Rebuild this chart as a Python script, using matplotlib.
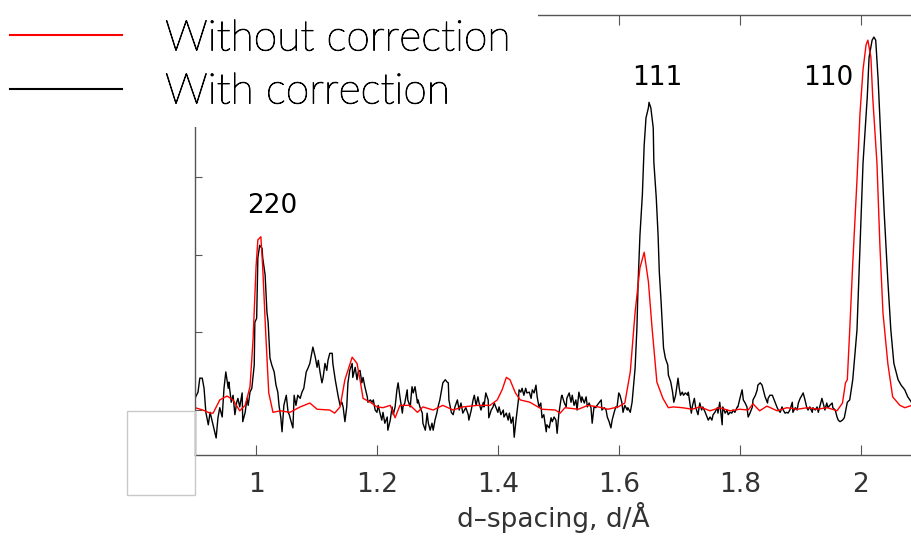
import numpy as np
import matplotlib
matplotlib.use('Agg')
import matplotlib.pyplot as plt
import matplotlib.patheffects as pe
from matplotlib.patches import Rectangle

# diffraction pattern, d-spacing (A) vs intensity (a.u.)
x_red = [0.899, 0.912, 0.924, 0.929, 0.940, 0.952, 0.962, 0.973, 0.982, 0.990,
         0.995, 1.000, 1.003, 1.008, 1.011, 1.016, 1.021, 1.028, 1.040, 1.056,
         1.073, 1.089, 1.101, 1.122, 1.130, 1.139, 1.147, 1.159, 1.167, 1.172,
         1.177, 1.189, 1.200, 1.210, 1.222, 1.230, 1.238, 1.255, 1.267, 1.276,
         1.293, 1.309, 1.326, 1.342, 1.366, 1.387, 1.399, 1.407, 1.414, 1.420,
         1.429, 1.437, 1.453, 1.473, 1.495, 1.503, 1.511, 1.533, 1.549, 1.566,
         1.582, 1.599, 1.610, 1.619, 1.627, 1.635, 1.642, 1.649, 1.655, 1.663,
         1.673, 1.682, 1.690, 1.705, 1.721, 1.734, 1.751, 1.767, 1.784, 1.800,
         1.814, 1.822, 1.833, 1.845, 1.862, 1.878, 1.895, 1.912, 1.928, 1.945,
         1.961, 1.970, 1.975, 1.978, 1.982, 1.987, 1.994, 1.999, 2.004, 2.009,
         2.012, 2.017, 2.020, 2.027, 2.032, 2.037, 2.045, 2.053, 2.065, 2.073,
         2.085]
y_red = [0.03, 0.00, -0.04, -0.04, 0.13, 0.18, 0.13, -0.01, 0.06, 0.30,
         0.90, 1.84, 2.19, 2.23, 1.84, 0.99, 0.22, -0.03, -0.01, -0.03,
         0.04, 0.09, 0.01, 0.00, -0.04, 0.04, 0.39, 0.68, 0.60, 0.39,
         0.15, 0.10, 0.04, 0.03, 0.06, -0.10, 0.06, 0.06, -0.03, 0.04,
         0.00, 0.06, 0.00, 0.04, 0.06, 0.06, 0.13, 0.26, 0.42, 0.39,
         0.22, 0.13, 0.10, 0.01, 0.00, -0.04, 0.03, 0.01, 0.06, 0.04,
         0.01, 0.04, 0.09, 0.49, 1.26, 1.83, 2.03, 1.65, 1.06, 0.36,
         0.15, 0.03, 0.04, 0.03, 0.01, 0.04, -0.01, 0.03, -0.01, 0.01,
         0.00, 0.08, -0.01, 0.05, -0.01, 0.03, 0.01, 0.03, 0.01, 0.03,
         -0.01, 0.09, 0.35, 0.39, 1.03, 1.89, 2.96, 3.82, 4.38, 4.70,
         4.76, 4.54, 4.03, 3.18, 2.10, 1.25, 0.60, 0.17, 0.06, 0.03,
         0.06]

x_black = [0.899, 0.904, 0.907, 0.911, 0.914, 0.917, 0.921, 0.924, 0.927, 0.930,
           0.934, 0.937, 0.940, 0.944, 0.947, 0.950, 0.954, 0.955, 0.959, 0.962,
           0.965, 0.968, 0.970, 0.973, 0.977, 0.978, 0.982, 0.985, 0.987, 0.990,
           0.993, 0.997, 0.998, 1.001, 1.003, 1.006, 1.010, 1.011, 1.015, 1.018,
           1.020, 1.023, 1.026, 1.030, 1.033, 1.036, 1.038, 1.041, 1.043, 1.046,
           1.050, 1.053, 1.055, 1.058, 1.061, 1.063, 1.066, 1.069, 1.073, 1.076,
           1.079, 1.083, 1.086, 1.089, 1.093, 1.094, 1.098, 1.101, 1.103, 1.106,
           1.109, 1.111, 1.114, 1.117, 1.119, 1.122, 1.126, 1.127, 1.131, 1.134,
           1.136, 1.139, 1.142, 1.144, 1.147, 1.150, 1.152, 1.155, 1.159, 1.160,
           1.164, 1.167, 1.169, 1.172, 1.175, 1.177, 1.180, 1.184, 1.185, 1.189,
           1.192, 1.194, 1.197, 1.200, 1.202, 1.205, 1.208, 1.210, 1.213, 1.217,
           1.218, 1.222, 1.225, 1.227, 1.230, 1.233, 1.235, 1.238, 1.242, 1.243,
           1.246, 1.250, 1.251, 1.255, 1.258, 1.260, 1.263, 1.267, 1.268, 1.271,
           1.275, 1.276, 1.280, 1.283, 1.285, 1.288, 1.291, 1.293, 1.296, 1.299,
           1.301, 1.304, 1.308, 1.309, 1.313, 1.316, 1.318, 1.319, 1.323, 1.326,
           1.329, 1.333, 1.336, 1.339, 1.342, 1.347, 1.351, 1.352, 1.356, 1.359,
           1.361, 1.364, 1.367, 1.369, 1.372, 1.376, 1.377, 1.380, 1.384, 1.385,
           1.389, 1.392, 1.394, 1.397, 1.400, 1.402, 1.405, 1.409, 1.410, 1.414,
           1.417, 1.419, 1.422, 1.425, 1.427, 1.430, 1.434, 1.435, 1.438, 1.440,
           1.443, 1.446, 1.448, 1.452, 1.455, 1.457, 1.460, 1.463, 1.465, 1.468,
           1.471, 1.473, 1.476, 1.480, 1.481, 1.485, 1.488, 1.490, 1.493, 1.496,
           1.498, 1.501, 1.505, 1.506, 1.510, 1.513, 1.514, 1.518, 1.521, 1.523,
           1.526, 1.529, 1.531, 1.534, 1.538, 1.539, 1.543, 1.546, 1.548, 1.551,
           1.554, 1.556, 1.559, 1.562, 1.564, 1.567, 1.571, 1.572, 1.576, 1.579,
           1.581, 1.584, 1.587, 1.589, 1.592, 1.595, 1.597, 1.600, 1.602, 1.605,
           1.607, 1.610, 1.614, 1.615, 1.619, 1.622, 1.624, 1.627, 1.630, 1.632,
           1.635, 1.639, 1.642, 1.645, 1.649, 1.650, 1.653, 1.657, 1.658, 1.662,
           1.665, 1.667, 1.670, 1.672, 1.674, 1.677, 1.681, 1.682, 1.686, 1.689,
           1.691, 1.694, 1.698, 1.700, 1.702, 1.705, 1.707, 1.710, 1.714, 1.715,
           1.720, 1.722, 1.725, 1.727, 1.731, 1.734, 1.737, 1.739, 1.743, 1.746,
           1.748, 1.751, 1.754, 1.756, 1.759, 1.763, 1.764, 1.767, 1.771, 1.772,
           1.776, 1.779, 1.781, 1.784, 1.787, 1.789, 1.792, 1.796, 1.797, 1.801,
           1.804, 1.806, 1.809, 1.812, 1.814, 1.817, 1.821, 1.822, 1.826, 1.829,
           1.830, 1.834, 1.837, 1.839, 1.842, 1.846, 1.847, 1.850, 1.854, 1.855,
           1.859, 1.862, 1.864, 1.867, 1.870, 1.872, 1.875, 1.878, 1.880, 1.883,
           1.887, 1.888, 1.892, 1.895, 1.897, 1.900, 1.903, 1.905, 1.908, 1.911,
           1.913, 1.916, 1.920, 1.921, 1.925, 1.928, 1.930, 1.933, 1.936, 1.938,
           1.941, 1.944, 1.946, 1.949, 1.953, 1.954, 1.958, 1.961, 1.963, 1.966,
           1.970, 1.973, 1.978, 1.982, 1.987, 1.994, 1.999, 2.004, 2.011, 2.014,
           2.019, 2.022, 2.025, 2.029, 2.034, 2.039, 2.045, 2.050, 2.055, 2.062,
           2.067, 2.073, 2.078, 2.085]
y_black = [0.15, 0.23, 0.41, 0.41, 0.28, -0.03, -0.19, -0.03, -0.13, -0.23,
           -0.36, -0.10, 0.03, -0.09, 0.28, 0.49, 0.28, 0.36, 0.10, 0.19,
           -0.06, 0.10, 0.15, 0.04, 0.22, -0.15, -0.03, 0.15, 0.06, 0.23,
           0.28, 0.58, 1.13, 1.18, 1.96, 2.12, 2.08, 1.96, 1.74, 1.26,
           1.13, 0.67, 0.58, 0.49, 0.32, 0.23, 0.06, -0.10, -0.28, 0.06,
           0.19, -0.03, -0.06, -0.15, -0.23, 0.19, 0.06, 0.19, 0.15, 0.23,
           0.28, 0.49, 0.54, 0.60, 0.77, 0.81, 0.68, 0.55, 0.64, 0.48,
           0.35, 0.42, 0.60, 0.51, 0.64, 0.73, 0.73, 0.60, 0.39, 0.26,
           0.17, 0.06, 0.10, 0.04, -0.15, 0.04, 0.35, 0.51, 0.60, 0.42,
           0.55, 0.39, 0.49, 0.51, 0.35, 0.42, 0.30, 0.17, 0.10, 0.13,
           0.10, 0.13, 0.00, -0.03, 0.06, -0.04, -0.13, -0.03, -0.17, -0.09,
           -0.26, -0.13, 0.04, -0.06, 0.04, 0.26, 0.35, 0.17, -0.04, 0.04,
           0.09, 0.26, 0.13, 0.04, 0.30, 0.22, 0.30, 0.09, 0.13, 0.04,
           -0.04, -0.17, -0.26, -0.04, -0.17, -0.26, -0.17, -0.26, -0.13, -0.04,
           0.04, 0.13, 0.30, 0.35, 0.39, 0.36, 0.35, 0.13, -0.03, -0.06,
           0.04, 0.13, 0.00, 0.09, -0.04, 0.03, -0.06, -0.13, 0.00, 0.13,
           0.19, 0.06, 0.17, 0.09, 0.00, 0.10, 0.04, 0.22, 0.13, -0.10,
           0.00, 0.04, 0.09, 0.03, -0.03, 0.04, -0.06, 0.00, -0.09, -0.04,
           -0.13, -0.04, -0.17, -0.09, -0.35, -0.13, 0.13, 0.26, 0.23, 0.28,
           0.19, 0.28, 0.22, 0.23, 0.15, 0.26, 0.22, 0.32, 0.17, 0.04,
           0.09, -0.10, -0.06, -0.28, -0.19, -0.23, -0.10, -0.15, -0.09, -0.13,
           -0.30, -0.04, 0.17, 0.19, 0.09, 0.04, 0.15, 0.22, 0.10, 0.19,
           0.06, 0.13, 0.00, 0.23, 0.10, 0.17, 0.09, 0.17, 0.04, 0.09,
           0.03, -0.17, 0.04, 0.03, 0.06, 0.09, 0.13, 0.00, 0.03, 0.00,
           -0.09, -0.15, -0.23, -0.13, -0.04, 0.04, 0.03, 0.22, 0.19, 0.10,
           -0.03, 0.06, 0.00, 0.03, -0.03, 0.10, 0.28, 0.54, 1.06, 1.65,
           2.25, 2.77, 3.41, 3.76, 3.89, 3.96, 3.89, 3.63, 3.19, 2.73,
           2.25, 1.78, 1.39, 1.09, 0.80, 0.67, 0.58, 0.45, 0.36, 0.23,
           0.10, 0.19, 0.41, 0.28, 0.19, 0.23, 0.19, 0.22, 0.19, 0.23,
           -0.04, 0.06, 0.15, 0.04, -0.06, 0.09, 0.00, 0.04, -0.03, -0.09,
           -0.13, -0.09, -0.13, -0.06, -0.03, 0.03, -0.04, 0.10, -0.19, 0.04,
           -0.04, 0.00, -0.06, -0.03, -0.04, 0.00, -0.03, 0.04, 0.04, 0.17,
           0.26, 0.13, 0.09, 0.04, -0.09, -0.04, 0.04, 0.13, 0.19, 0.26,
           0.32, 0.35, 0.32, 0.26, 0.17, 0.09, 0.15, 0.19, 0.19, 0.17,
           0.09, 0.03, 0.00, -0.03, 0.04, 0.00, -0.04, -0.03, -0.04, 0.00,
           0.10, -0.03, 0.03, 0.00, 0.09, 0.15, 0.19, 0.22, 0.13, 0.03,
           0.00, 0.04, -0.03, 0.03, 0.00, 0.04, -0.03, 0.06, 0.15, 0.09,
           0.00, 0.09, 0.03, 0.06, 0.09, 0.03, 0.00, -0.09, -0.13, -0.15,
           -0.13, -0.10, 0.10, 0.13, 0.39, 1.03, 2.10, 3.18, 4.03, 4.54,
           4.76, 4.80, 4.76, 4.25, 3.38, 2.54, 1.67, 1.03, 0.60, 0.39,
           0.32, 0.26, 0.17, 0.09]

xticks = [1, 1.2, 1.4, 1.6, 1.8, 2]
xticklabels = ['1', '1.2', '1.4', '1.6', '1.8', '2']
yticks = [0, 1, 2, 3, 4]
peak_labels = ['220', '111', '110']
peak_x = [1.026, 1.664, 1.946]
peak_y = [2.62, 4.27, 4.27]

fig = plt.figure(figsize=(9.12, 5.4), dpi=100)
ax = fig.add_axes([0.2138, 0.1574, 0.7862, 0.8148])

l_black, = ax.plot(x_black, y_black, color='black', lw=1.0)
l_red, = ax.plot(x_red, y_red, color='#ff0000', lw=1.0)

for lab, px, py in zip(peak_labels, peak_x, peak_y):
    ax.text(px, py, lab, fontsize=19, ha='center', va='center', color='black')

ax.set_xlim(0.899, 2.085)
ax.set_ylim(-0.579, 5.084)
ax.set_xticks(xticks)
ax.set_xticklabels(xticklabels)
ax.set_yticks(yticks)
ax.set_yticklabels([])
ax.tick_params(axis='x', direction='in', top=True, length=7, width=0.8,
               colors='#555555', labelcolor='#333333', labelsize=19, pad=12)
ax.tick_params(axis='y', direction='in', length=5, width=0.8, colors='#555555')
ax.spines['right'].set_visible(False)
for s in ['left', 'top', 'bottom']:
    ax.spines[s].set_color('#555555')
    ax.spines[s].set_linewidth(1.0)
ax.set_xlabel('d–spacing, d/Å', fontsize=19, color='#333333', labelpad=3)

# white box the legend sits on, hiding the corner of the axes
fig.add_artist(Rectangle((0, 1 - 127 / 540), 538 / 912, 127 / 540,
                         transform=fig.transFigure, fc='white', ec='none', zorder=2))
# stray grey box left of the axis
fig.add_artist(Rectangle((127 / 912, 45 / 540), 68 / 912, 84 / 540,
                         transform=fig.transFigure, fc='none', ec='#c8c8c8',
                         lw=1.0, zorder=2))

leg = fig.legend([l_red, l_black], ['Without correction', 'With correction'],
                 loc='upper left', bbox_to_anchor=(0.0, 0.983), frameon=False,
                 prop={'family': 'Lato', 'weight': 'light', 'size': 30.7},
                 handlelength=2.63, handletextpad=1.0, labelspacing=0.33,
                 borderpad=0.24, borderaxespad=0.0)
for t in leg.get_texts():
    t.set_color('black')
    t.set_path_effects([pe.withStroke(linewidth=0.7, foreground='black')])
for h in leg.legend_handles:
    h.set_linewidth(1.5)

fig.savefig('out.png', dpi=100)
